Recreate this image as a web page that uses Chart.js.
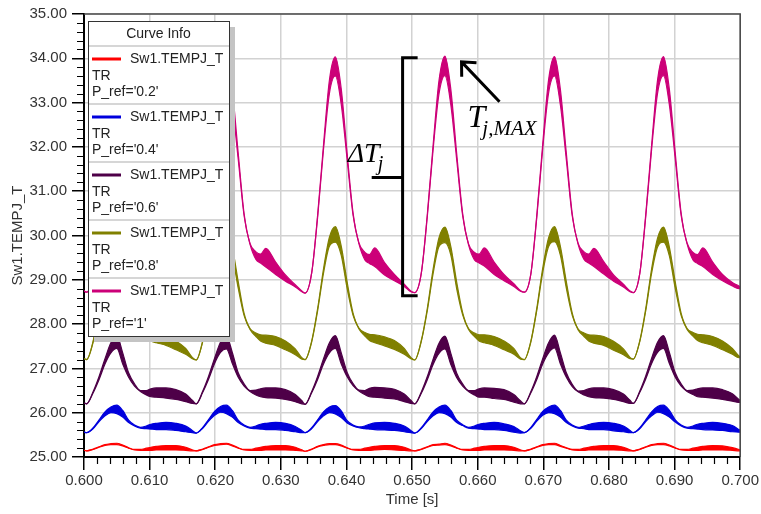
<!DOCTYPE html>
<html>
<head>
<meta charset="utf-8">
<script src="https://cdn.jsdelivr.net/npm/chart.js@4.4.1/dist/chart.umd.min.js"></script>
<style>
  html, body { margin: 0; padding: 0; background: #fff; }
</style>
</head>
<body>
<canvas id="tempChart" width="761" height="514"></canvas>
<script>
// sample instants [s], one row per switching period
const time = [
  0.6000,
  0.6004,0.6014,0.6023,0.6032,0.6041,0.6050,0.6059,0.6068,0.6077,0.6086,0.6095,0.6102,0.6110,0.6125,0.6140,0.6155,0.6165,
  0.6171,0.6181,0.6190,0.6199,0.6208,0.6217,0.6226,0.6235,0.6244,0.6253,0.6262,0.6269,0.6277,0.6292,0.6307,0.6322,0.6332,
  0.6337,0.6347,0.6356,0.6365,0.6374,0.6383,0.6392,0.6401,0.6410,0.6419,0.6428,0.6435,0.6443,0.6458,0.6473,0.6488,0.6498,
  0.6504,0.6514,0.6523,0.6532,0.6541,0.6550,0.6559,0.6568,0.6577,0.6586,0.6595,0.6602,0.6610,0.6625,0.6640,0.6655,0.6665,
  0.6671,0.6681,0.6690,0.6699,0.6708,0.6717,0.6726,0.6735,0.6744,0.6753,0.6762,0.6769,0.6777,0.6792,0.6807,0.6822,0.6832,
  0.6837,0.6847,0.6856,0.6865,0.6874,0.6883,0.6892,0.6901,0.6910,0.6919,0.6928,0.6935,0.6943,0.6958,0.6973,0.6988,0.6998,
  0.7000
];

// junction temperature, lower / upper edge of the ripple band [degC]
const pinkLo = [
  28.75,
  28.72,29.15,30.40,31.95,33.20,33.60,32.95,31.70,30.45,29.80,29.45,29.38,29.30,29.12,28.98,28.85,28.74,
  28.71,29.14,30.42,31.96,33.22,33.62,32.94,31.72,30.44,29.80,29.46,29.38,29.29,29.12,28.97,28.84,28.73,
  28.70,29.16,30.41,31.95,33.21,33.60,32.96,31.71,30.46,29.81,29.45,29.37,29.30,29.11,28.98,28.85,28.73,
  28.71,29.15,30.40,31.94,33.20,33.61,32.95,31.70,30.45,29.79,29.45,29.38,29.31,29.12,28.98,28.85,28.74,
  28.72,29.14,30.41,31.96,33.22,33.60,32.94,31.71,30.44,29.80,29.46,29.38,29.30,29.13,28.97,28.84,28.73,
  28.71,29.15,30.42,31.95,33.21,33.61,32.95,31.72,30.45,29.81,29.45,29.37,29.30,29.12,28.98,28.86,28.80,
  28.80
];
const pinkHi = [
  28.75,
  28.72,29.15,30.45,32.05,33.50,34.05,33.30,31.85,30.50,29.82,29.62,29.58,29.72,29.40,29.12,28.90,28.76,
  28.71,29.14,30.47,32.06,33.52,34.04,33.28,31.86,30.49,29.82,29.63,29.58,29.71,29.40,29.11,28.89,28.75,
  28.70,29.16,30.46,32.05,33.51,34.03,33.31,31.85,30.51,29.83,29.62,29.57,29.72,29.39,29.12,28.90,28.75,
  28.71,29.15,30.45,32.04,33.50,34.05,33.30,31.84,30.50,29.81,29.62,29.58,29.72,29.40,29.12,28.91,28.76,
  28.72,29.14,30.46,32.06,33.52,34.04,33.29,31.86,30.49,29.82,29.63,29.58,29.71,29.41,29.11,28.90,28.75,
  28.71,29.15,30.47,32.05,33.51,34.04,33.30,31.86,30.50,29.83,29.62,29.57,29.72,29.40,29.12,28.94,28.86,
  28.84
];
const oliveLo = [
  27.22,
  27.20,27.60,28.30,29.15,29.75,29.85,29.55,28.80,28.20,27.88,27.72,27.62,27.58,27.52,27.42,27.32,27.22,
  27.19,27.61,28.31,29.16,29.74,29.86,29.54,28.81,28.19,27.88,27.72,27.62,27.57,27.52,27.42,27.31,27.21,
  27.20,27.60,28.30,29.15,29.76,29.85,29.55,28.80,28.20,27.89,27.73,27.63,27.58,27.51,27.43,27.32,27.22,
  27.19,27.61,28.29,29.14,29.75,29.84,29.56,28.79,28.21,27.88,27.72,27.62,27.58,27.52,27.42,27.32,27.21,
  27.20,27.60,28.31,29.16,29.75,29.86,29.55,28.81,28.20,27.87,27.72,27.62,27.57,27.52,27.41,27.31,27.22,
  27.21,27.61,28.30,29.15,29.74,29.85,29.54,28.80,28.19,27.88,27.73,27.63,27.58,27.52,27.42,27.32,27.24,
  27.24
];
const oliveHi = [
  27.22,
  27.20,27.62,28.35,29.25,29.95,30.20,29.75,28.95,28.25,27.90,27.80,27.76,27.76,27.72,27.62,27.45,27.25,
  27.19,27.63,28.36,29.26,29.94,30.19,29.74,28.96,28.24,27.90,27.80,27.76,27.75,27.72,27.62,27.44,27.24,
  27.20,27.62,28.35,29.25,29.96,30.20,29.76,28.95,28.25,27.91,27.81,27.77,27.76,27.71,27.63,27.45,27.25,
  27.19,27.63,28.34,29.24,29.95,30.19,29.75,28.94,28.26,27.90,27.80,27.76,27.76,27.72,27.62,27.45,27.24,
  27.20,27.62,28.36,29.26,29.95,30.20,29.75,28.96,28.25,27.89,27.80,27.76,27.75,27.72,27.61,27.44,27.25,
  27.21,27.63,28.35,29.25,29.94,30.19,29.74,28.95,28.24,27.90,27.81,27.77,27.76,27.72,27.62,27.45,27.28,
  27.26
];
const purpleLo = [
  26.22,
  26.20,26.45,26.75,27.10,27.35,27.45,27.10,26.80,26.60,26.48,26.40,26.36,26.35,26.33,26.30,26.25,26.21,
  26.20,26.46,26.76,27.11,27.36,27.44,27.11,26.80,26.60,26.48,26.40,26.36,26.34,26.33,26.30,26.25,26.20,
  26.19,26.45,26.75,27.10,27.35,27.45,27.10,26.81,26.61,26.49,26.41,26.36,26.35,26.33,26.31,26.25,26.21,
  26.20,26.44,26.74,27.09,27.34,27.44,27.09,26.79,26.60,26.48,26.40,26.35,26.35,26.32,26.30,26.24,26.20,
  26.20,26.45,26.75,27.10,27.35,27.46,27.10,26.80,26.59,26.47,26.40,26.36,26.34,26.33,26.30,26.25,26.21,
  26.21,26.46,26.76,27.11,27.36,27.45,27.11,26.80,26.60,26.48,26.41,26.36,26.35,26.33,26.30,26.26,26.23,
  26.23
];
const purpleHi = [
  26.22,
  26.20,26.48,26.82,27.22,27.58,27.74,27.35,26.90,26.65,26.50,26.50,26.54,26.56,26.56,26.52,26.42,26.28,
  26.20,26.49,26.83,27.23,27.59,27.73,27.36,26.90,26.65,26.50,26.51,26.54,26.56,26.56,26.52,26.41,26.27,
  26.19,26.48,26.82,27.22,27.58,27.74,27.35,26.91,26.66,26.51,26.50,26.55,26.57,26.56,26.53,26.42,26.28,
  26.20,26.47,26.81,27.21,27.57,27.73,27.34,26.89,26.65,26.50,26.50,26.54,26.56,26.55,26.52,26.41,26.27,
  26.20,26.48,26.82,27.22,27.58,27.75,27.35,26.90,26.64,26.49,26.50,26.54,26.56,26.56,26.52,26.42,26.28,
  26.21,26.49,26.83,27.23,27.59,27.74,27.36,26.90,26.65,26.50,26.51,26.54,26.56,26.56,26.52,26.43,26.30,
  26.28
];
const blueLo = [
  25.56,
  25.55,25.64,25.80,25.93,26.00,25.98,25.90,25.78,25.70,25.65,25.64,25.63,25.62,25.62,25.60,25.57,25.55,
  25.54,25.65,25.81,25.94,26.01,25.98,25.90,25.78,25.70,25.65,25.64,25.63,25.62,25.62,25.60,25.57,25.55,
  25.55,25.64,25.80,25.93,26.00,25.97,25.89,25.77,25.70,25.66,25.64,25.63,25.62,25.61,25.60,25.57,25.55,
  25.54,25.64,25.80,25.93,26.00,25.98,25.90,25.78,25.71,25.65,25.64,25.63,25.62,25.62,25.60,25.56,25.54,
  25.55,25.65,25.81,25.94,26.00,25.98,25.90,25.78,25.70,25.65,25.64,25.62,25.62,25.62,25.59,25.57,25.55,
  25.55,25.64,25.80,25.93,26.01,25.98,25.90,25.79,25.70,25.65,25.64,25.63,25.62,25.61,25.60,25.57,25.56,
  25.56
];
const blueHi = [
  25.56,
  25.55,25.66,25.84,26.02,26.13,26.17,26.05,25.83,25.72,25.67,25.70,25.74,25.76,25.78,25.76,25.70,25.60,
  25.54,25.67,25.85,26.03,26.14,26.17,26.05,25.83,25.72,25.67,25.70,25.74,25.76,25.78,25.76,25.69,25.60,
  25.55,25.66,25.84,26.02,26.13,26.16,26.04,25.82,25.72,25.68,25.70,25.74,25.77,25.78,25.76,25.70,25.60,
  25.54,25.66,25.84,26.02,26.13,26.17,26.05,25.83,25.73,25.67,25.70,25.74,25.76,25.78,25.75,25.69,25.59,
  25.55,25.67,25.85,26.03,26.13,26.17,26.05,25.83,25.72,25.67,25.70,25.73,25.76,25.78,25.76,25.70,25.60,
  25.55,25.66,25.84,26.02,26.14,26.17,26.05,25.84,25.72,25.67,25.70,25.74,25.76,25.78,25.76,25.71,25.62,
  25.60
];
const redLo = [
  25.15,
  25.14,25.17,25.22,25.26,25.28,25.28,25.25,25.20,25.16,25.15,25.15,25.15,25.16,25.16,25.16,25.15,25.14,
  25.14,25.17,25.22,25.26,25.28,25.29,25.25,25.20,25.16,25.15,25.15,25.15,25.16,25.16,25.16,25.15,25.14,
  25.13,25.17,25.23,25.26,25.28,25.28,25.25,25.20,25.16,25.15,25.15,25.15,25.16,25.17,25.16,25.15,25.14,
  25.14,25.17,25.22,25.26,25.27,25.28,25.25,25.20,25.16,25.15,25.15,25.15,25.16,25.16,25.16,25.15,25.14,
  25.14,25.17,25.22,25.26,25.28,25.28,25.24,25.20,25.16,25.15,25.15,25.16,25.16,25.16,25.16,25.15,25.14,
  25.14,25.17,25.22,25.26,25.28,25.28,25.25,25.20,25.16,25.15,25.15,25.15,25.16,25.16,25.16,25.15,25.14,
  25.14
];
const redHi = [
  25.15,
  25.14,25.18,25.23,25.28,25.30,25.31,25.27,25.21,25.17,25.17,25.20,25.22,25.24,25.26,25.26,25.22,25.16,
  25.14,25.18,25.23,25.28,25.30,25.31,25.27,25.21,25.17,25.17,25.20,25.22,25.24,25.26,25.26,25.22,25.16,
  25.13,25.18,25.24,25.28,25.30,25.30,25.27,25.21,25.17,25.17,25.20,25.22,25.24,25.26,25.26,25.22,25.16,
  25.14,25.18,25.23,25.28,25.29,25.31,25.27,25.21,25.17,25.17,25.20,25.22,25.24,25.26,25.26,25.22,25.16,
  25.14,25.18,25.23,25.28,25.30,25.31,25.26,25.21,25.17,25.17,25.20,25.22,25.24,25.26,25.26,25.22,25.16,
  25.14,25.18,25.23,25.28,25.30,25.31,25.27,25.21,25.17,25.17,25.20,25.22,25.24,25.26,25.25,25.21,25.17,
  25.16
];

const pRefLabels = ['0.2', '0.4', '0.6', '0.8', '1'];
const curveColors = ['#ff0000', '#0000dd', '#4e0048', '#808000', '#cc0078'];
const xTickValues = [0.60, 0.61, 0.62, 0.63, 0.64, 0.65, 0.66, 0.67, 0.68, 0.69, 0.70];
const yTickValues = [25, 26, 27, 28, 29, 30, 31, 32, 33, 34, 35];

// bracket, arrow and labels for the pink trace (axis units)
const bracket = { x0: 0.64855, x1: 0.65084, tickX: 0.64384, top: 34.01, bottom: 28.64, mid: 31.31 };
const arrow = { tipX: 0.65753, tipY: 33.92, tailX: 0.66332, tailY: 33.02 };
const deltaLabelPos = { x: 0.64018, y: 31.67 };
const maxLabelPos = { x: 0.65845, y: 32.46 };

const bands = [[redLo, redHi], [blueLo, blueHi], [purpleLo, purpleHi], [oliveLo, oliveHi], [pinkLo, pinkHi]];

const datasets = [];
bands.forEach(([lo, hi], i) => {
    const line = {
        borderColor: curveColors[i],
        backgroundColor: curveColors[i],
        borderWidth: 1.2,
        pointRadius: 0,
        cubicInterpolationMode: 'monotone',
    };
    datasets.push(Object.assign({ label: 'Sw1.TEMPJ_T', fill: false,
        data: time.map((t, j) => ({ x: t, y: lo[j] })) }, line));
    datasets.push(Object.assign({ label: 'band', fill: '-1',
        data: time.map((t, j) => ({ x: t, y: hi[j] })) }, line));
});

const sans = '"Liberation Sans", Arial, sans-serif';

// top/right frame plus the short minor ticks on both axes
const frameAndMinorTicks = {
    id: 'frameAndMinorTicks',
    afterDraw(chart) {
        const { ctx, chartArea: a, scales: { x, y } } = chart;
        ctx.save();
        ctx.strokeStyle = '#4a4a4a';
        ctx.lineWidth = 1.5;
        ctx.beginPath();
        ctx.moveTo(a.left, a.top);
        ctx.lineTo(a.right, a.top);
        ctx.lineTo(a.right, a.bottom);
        ctx.stroke();

        ctx.strokeStyle = '#000';
        ctx.lineWidth = 1.2;
        ctx.beginPath();
        for (let i = 1; i < 50; i++) {
            if (i % 5 === 0) continue;
            const px = Math.round(x.getPixelForValue(0.6 + i * 0.002)) + 0.5;
            ctx.moveTo(px, a.bottom);
            ctx.lineTo(px, a.bottom + 7);
            const py = Math.round(y.getPixelForValue(25 + i * 0.2)) + 0.5;
            ctx.moveTo(a.left - 7, py);
            ctx.lineTo(a.left, py);
        }
        ctx.stroke();
        ctx.restore();
    }
};

// delta-T bracket, the arrow to the peak and the two italic labels
const deltaMarks = {
    id: 'deltaMarks',
    afterDatasetsDraw(chart) {
        const { ctx, scales: { x, y } } = chart;
        const X = v => x.getPixelForValue(v);
        const Y = v => y.getPixelForValue(v);
        ctx.save();
        ctx.strokeStyle = '#000';
        ctx.lineWidth = 3;
        ctx.beginPath();
        ctx.moveTo(X(bracket.x1), Y(bracket.top));
        ctx.lineTo(X(bracket.x0), Y(bracket.top));
        ctx.lineTo(X(bracket.x0), Y(bracket.bottom));
        ctx.lineTo(X(bracket.x1), Y(bracket.bottom));
        ctx.moveTo(X(bracket.tickX), Y(bracket.mid));
        ctx.lineTo(X(bracket.x0), Y(bracket.mid));
        ctx.stroke();

        const tx = X(arrow.tipX), ty = Y(arrow.tipY);
        const ang = Math.atan2(Y(arrow.tailY) - ty, X(arrow.tailX) - tx);
        ctx.lineWidth = 3;
        ctx.beginPath();
        ctx.moveTo(X(arrow.tailX), Y(arrow.tailY));
        ctx.lineTo(tx, ty);
        ctx.moveTo(tx + 15 * Math.cos(ang - 0.75), ty + 15 * Math.sin(ang - 0.75));
        ctx.lineTo(tx, ty);
        ctx.lineTo(tx + 15 * Math.cos(ang + 0.75), ty + 15 * Math.sin(ang + 0.75));
        ctx.stroke();

        ctx.fillStyle = '#000';
        ctx.textBaseline = 'alphabetic';
        ctx.textAlign = 'left';
        let px = X(deltaLabelPos.x), py = Y(deltaLabelPos.y);
        ctx.font = 'italic 28px "Liberation Serif", serif';
        ctx.fillText('\u0394T', px, py);
        px += ctx.measureText('\u0394T').width;
        ctx.font = 'italic 20px "Liberation Serif", serif';
        ctx.fillText('j', px - 2, py + 8);

        px = X(maxLabelPos.x); py = Y(maxLabelPos.y);
        ctx.font = 'italic 32px "Liberation Serif", serif';
        ctx.fillText('T', px, py);
        px += ctx.measureText('T').width;
        ctx.font = 'italic 21px "Liberation Serif", serif';
        ctx.fillText('j,MAX', px - 3, py + 8);
        ctx.restore();
    }
};

// boxed "Curve Info" legend in the upper left of the plot
const curveInfo = {
    id: 'curveInfo',
    afterDraw(chart) {
        const { ctx, chartArea: a } = chart;
        const bx = a.left + 4, by = a.top + 7, bw = 141, head = 25, row = 58;
        const bh = head + row * pRefLabels.length;
        ctx.save();
        ctx.fillStyle = '#c4c4c4';
        ctx.fillRect(bx + 6, by + 6, bw, bh);
        ctx.fillStyle = '#fff';
        ctx.fillRect(bx, by, bw, bh);
        ctx.strokeStyle = '#333';
        ctx.lineWidth = 1;
        ctx.strokeRect(bx + 0.5, by + 0.5, bw, bh);

        ctx.fillStyle = '#222';
        ctx.font = '14px ' + sans;
        ctx.textBaseline = 'middle';
        ctx.textAlign = 'center';
        ctx.fillText('Curve Info', bx + bw / 2, by + 13);

        ctx.textAlign = 'left';
        pRefLabels.forEach((p, i) => {
            const top = by + head + row * i;
            ctx.strokeStyle = '#c8c8c8';
            ctx.lineWidth = 1.5;
            ctx.beginPath();
            ctx.moveTo(bx + 1, top);
            ctx.lineTo(bx + bw, top);
            ctx.stroke();

            ctx.strokeStyle = curveColors[i];
            ctx.lineWidth = 3;
            ctx.beginPath();
            ctx.moveTo(bx + 4, top + 13);
            ctx.lineTo(bx + 33, top + 13);
            ctx.stroke();

            ctx.fillStyle = '#222';
            ctx.fillText(chart.data.datasets[2 * i].label, bx + 42, top + 13);
            ctx.fillText('TR', bx + 4, top + 30);
            ctx.fillText("P_ref='" + p + "'", bx + 4, top + 46);
        });
        ctx.restore();
    }
};

const ctx = document.getElementById('tempChart').getContext('2d');
new Chart(ctx, {
    type: 'line',
    data: { datasets: datasets },
    options: {
        responsive: false,
        animation: false,
        events: [],
        layout: { padding: { top: 12, right: 20, left: 0, bottom: 0 } },
        plugins: {
            legend: { display: false },
            tooltip: { enabled: false },
        },
        scales: {
            x: {
                type: 'linear',
                min: 0.6,
                max: 0.7,
                afterBuildTicks: s => { s.ticks = xTickValues.map(v => ({ value: v })); },
                afterFit: s => { s.height = 57; },
                ticks: {
                    callback: v => v.toFixed(3),
                    font: { family: sans, size: 15 },
                    color: '#333',
                    padding: 2,
                    maxRotation: 0,
                    autoSkip: false,
                },
                grid: { color: '#d2d2d2', lineWidth: 1.5, tickColor: '#000', tickLength: 13, tickWidth: 1.5 },
                border: { color: '#000', width: 2 },
                title: {
                    display: true,
                    text: 'Time [s]',
                    font: { family: sans, size: 15 },
                    color: '#333',
                    padding: { top: 0, bottom: 5 },
                },
            },
            y: {
                min: 25,
                max: 35,
                afterBuildTicks: s => { s.ticks = yTickValues.map(v => ({ value: v })); },
                afterFit: s => { s.width = 84; },
                ticks: {
                    callback: v => v.toFixed(2),
                    font: { family: sans, size: 15 },
                    color: '#333',
                    padding: 5,
                },
                grid: { color: '#d2d2d2', lineWidth: 1.5, tickColor: '#000', tickLength: 12, tickWidth: 1.5 },
                border: { color: '#000', width: 2 },
                title: {
                    display: true,
                    text: 'Sw1.TEMPJ_T',
                    font: { family: sans, size: 15 },
                    color: '#333',
                    padding: { top: 9, bottom: 0 },
                },
            },
        },
    },
    plugins: [frameAndMinorTicks, deltaMarks, curveInfo],
});
</script>
</body>
</html>
